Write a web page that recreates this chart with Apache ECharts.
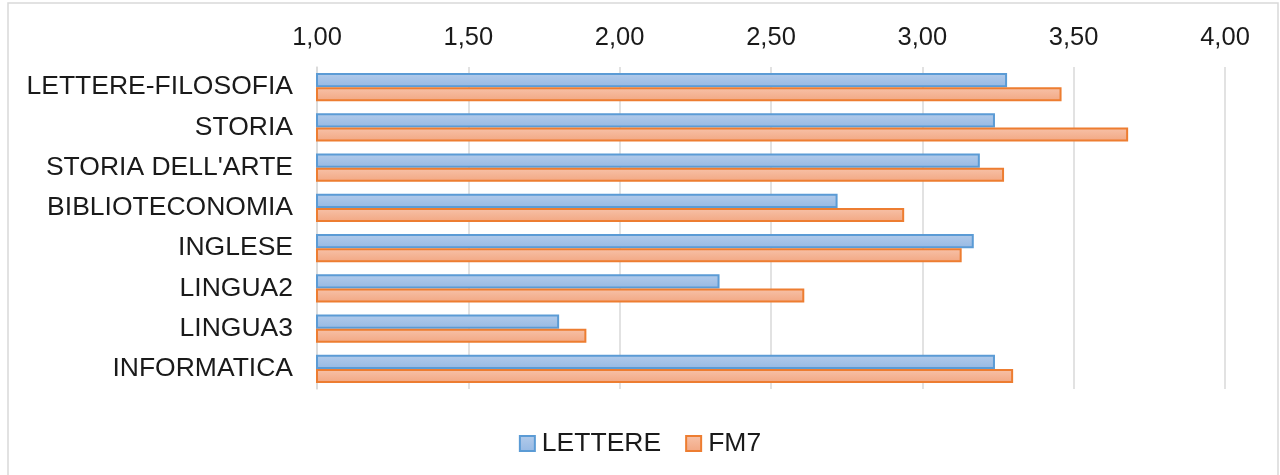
<!DOCTYPE html>
<html lang="it">
<head>
    <meta charset="UTF-8">
    <title>LETTERE / FM7</title>
    <script src="https://cdn.jsdelivr.net/npm/echarts@6/dist/echarts.min.js"></script>
    <style>
        html, body { margin: 0; padding: 0; background: #fff; }
    </style>
</head>
<body>
<div id="main" style="width: 1280px;height:475px;"></div>
<script type="text/javascript">
    // dati
    var categorie = ['LETTERE-FILOSOFIA', 'STORIA', "STORIA DELL'ARTE", 'BIBLIOTECONOMIA',
                     'INGLESE', 'LINGUA2', 'LINGUA3', 'INFORMATICA'];
    var lettere = [3.28, 3.24, 3.19, 2.72, 3.17, 2.33, 1.80, 3.24];
    var fm7     = [3.46, 3.68, 3.27, 2.94, 3.13, 2.61, 1.89, 3.30];
    var tickMin = 1, tickMax = 4, tickStep = 0.5;

    var myChart = echarts.init(document.getElementById('main'));

    function grad(top, bottom) {
        return new echarts.graphic.LinearGradient(0, 0, 0, 1, [
            {offset: 0, color: top},
            {offset: 1, color: bottom}
        ]);
    }

    var font = 'Liberation Sans, Arial, sans-serif';

    var option = {
        animation: false,
        backgroundColor: '#fff',
        graphic: [{
            type: 'rect',
            shape: {x: 8, y: 3, width: 1270, height: 490},
            style: {fill: 'none', stroke: '#d9d9d9', lineWidth: 1.5},
            silent: true
        }],
        legend: {
            data: ['LETTERE', 'FM7'],
            left: 'center',
            top: 425,
            itemWidth: 15,
            itemHeight: 15,
            itemGap: 24,
            icon: 'rect',
            textStyle: {fontFamily: font, fontSize: 26.5, color: '#1a1a1a', padding: [0, 0, 0, 2]}
        },
        grid: {
            left: 317,
            right: 55,
            top: 67,
            bottom: 86,
            containLabel: false
        },
        xAxis: {
            type: 'value',
            position: 'top',
            min: tickMin,
            max: tickMax,
            interval: tickStep,
            axisLine: {show: false},
            axisTick: {show: false},
            splitLine: {lineStyle: {color: '#d9d9d9', width: 1.5}},
            axisLabel: {
                fontFamily: font,
                fontSize: 25.5,
                color: '#1a1a1a',
                margin: 16,
                formatter: function (v) { return v.toFixed(2).replace('.', ','); }
            }
        },
        yAxis: {
            type: 'category',
            inverse: true,
            data: categorie,
            axisLine: {lineStyle: {color: '#d9d9d9', width: 1.5}},
            axisTick: {show: false},
            axisLabel: {fontFamily: font, fontSize: 26.5, color: '#1a1a1a', margin: 24}
        },
        series: [
            {
                name: 'LETTERE',
                type: 'bar',
                data: lettere,
                barGap: '0%',
                barCategoryGap: '30%',
                itemStyle: {
                    color: grad('#b3cbea', '#96b9e4'),
                    borderColor: '#5b9bd5',
                    borderWidth: 2
                }
            },
            {
                name: 'FM7',
                type: 'bar',
                data: fm7,
                barGap: '0%',
                barCategoryGap: '30%',
                itemStyle: {
                    color: grad('#f7c2a9', '#f2a782'),
                    borderColor: '#ed7d31',
                    borderWidth: 2
                }
            }
        ]
    };

    myChart.setOption(option);
</script>
</body>
</html>
